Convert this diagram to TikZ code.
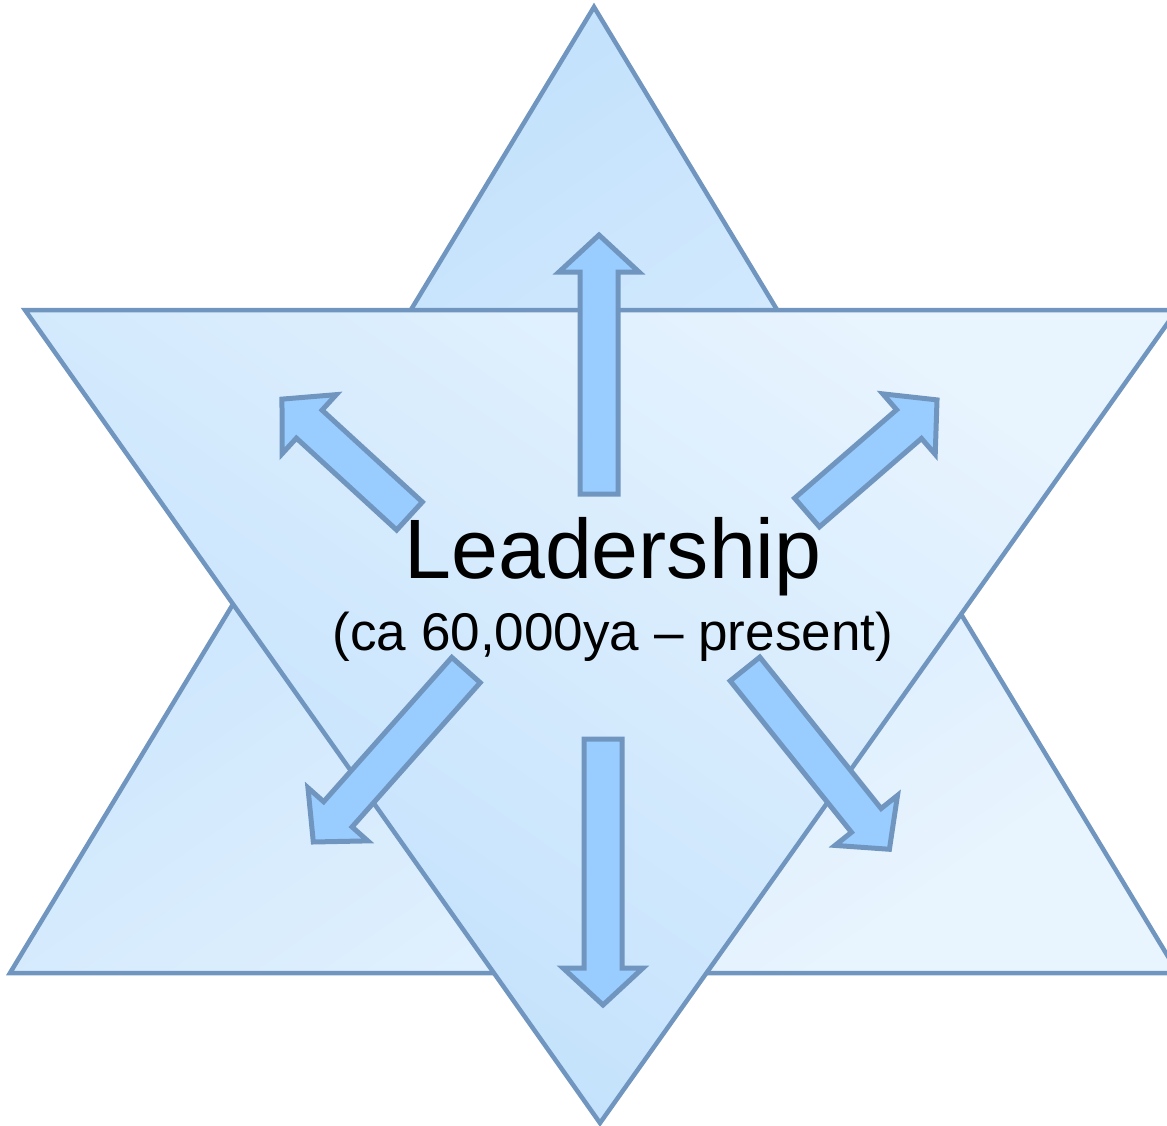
\documentclass[tikz,border=0pt]{standalone}
\usepackage{fontspec}
\setmainfont{Liberation Sans}
\definecolor{edgeblue}{RGB}{112,150,192}
\definecolor{shadedark}{RGB}{190,223,252}
\definecolor{shadelight}{RGB}{232,244,254}
\definecolor{arrowfill}{RGB}{153,204,255}
\tikzset{
  tri/.style={draw=edgeblue, line width=0.09cm, line join=miter},
  blockarrowstyle/.style={draw=edgeblue, fill=arrowfill, line width=0.1cm, line join=miter},
  maintext/.style={font=\fontsize{48}{58}\selectfont, inner sep=0pt, anchor=base},
  subtext/.style={font=\fontsize{30.2}{36}\selectfont, inner sep=0pt, anchor=base}
}
\newcommand\blockarr[4]{%
  \begin{scope}[shift={(#1,#2)}, rotate=#3]
    \draw[blockarrowstyle] (0,-19) -- ({#4-37},-19) -- ({#4-37},-40) -- (#4,0)
      -- ({#4-37},40) -- ({#4-37},19) -- (0,19) -- cycle;
  \end{scope}}
\begin{document}
\begin{tikzpicture}[x=0.02cm, y=-0.02cm]
  \useasboundingbox (0,0) rectangle (1167,1126);
  \clip (0,0) rectangle (1167,1126);
  % upward triangle
  \shadedraw[tri, top color=shadedark, bottom color=shadelight, shading angle=35]
    (594,7) -- (1178,973) -- (10,973) -- cycle;
  % downward triangle
  \shadedraw[tri, top color=shadelight, bottom color=shadedark, shading angle=-35]
    (25,310) -- (1177,310) -- (600,1123) -- cycle;
  % arrows
  \blockarr{599}{494}{90}{259}
  \blockarr{603}{739}{270}{266}
  \blockarr{409.5}{516}{137.5}{173}
  \blockarr{807}{512.5}{40.9}{172}
  \blockarr{466}{670}{228.4}{230}
  \blockarr{745}{669}{308.7}{231}
  % text
  \node[maintext] (title) at (613,578) {Leadership};
  \node[subtext] (sub) at (613,650) {(ca 60,000ya – present)};
\end{tikzpicture}
\end{document}
